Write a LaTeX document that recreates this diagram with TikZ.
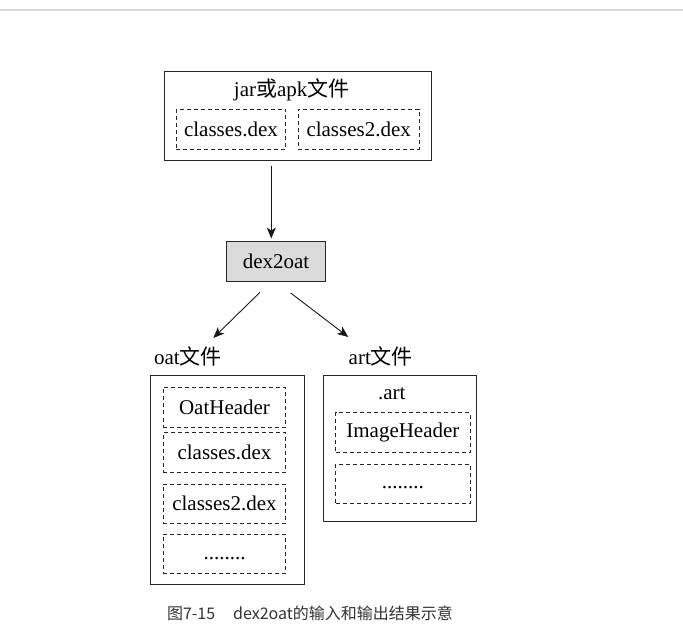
\documentclass[tikz,border=0pt]{standalone}
\usepackage{fontspec}
\setmainfont{Liberation Serif}
\newfontfamily\cjk{Noto Sans CJK SC}
\usetikzlibrary{arrows.meta}
\begin{document}
\begin{tikzpicture}[x=1pt,y=-1pt,
  solidbox/.style={draw=black!85,line width=0.9pt,inner sep=0pt},
  dashbox/.style={draw=black!85,line width=0.9pt,dash pattern=on 4pt off 3pt,inner sep=0pt,font=\fontsize{21}{24}\selectfont},
  dotbox/.style={dashbox,text height=0pt,text depth=0pt},
  lbl/.style={inner sep=0pt,font=\fontsize{21}{24}\selectfont},
  arr/.style={draw=black!90,line width=0.9pt,-{Stealth[length=11pt,width=9pt,inset=3pt]}}]
\useasboundingbox (0,0) rectangle (683,628);
\fill[white] (0,0) rectangle (683,628);
\coordinate (tl) at (0,10);
\coordinate (tr) at (683,10);
\draw[black!15,line width=1.4pt] (tl) -- (tr);
% top box
\node[solidbox,minimum width=267.4pt,minimum height=89.3pt] (top) at (298,115.7) {};
\node[lbl] (toplbl) at (291.7,89.5) {jar{\cjk 或}apk{\cjk 文件}};
\node[dashbox,minimum width=109.4pt,minimum height=40.4pt] (d1) at (231,129.5) {classes.dex};
\node[dashbox,minimum width=120.7pt,minimum height=40.4pt] (d2) at (358.7,129.5) {classes2.dex};
% dex2oat
\node[solidbox,fill=black!14,minimum width=98.6pt,minimum height=40pt,font=\fontsize{21}{24}\selectfont] (dex) at (276,261) {dex2oat};
% arrows
\coordinate (a0s) at (271.3,165.7);
\coordinate (a0e) at (271.3,238.5);
\draw[arr] (a0s) -- (a0e);
\coordinate (a1s) at (260,292.3);
\coordinate (a1e) at (213.3,338);
\draw[arr] (a1s) -- (a1e);
\coordinate (a2s) at (290.7,293);
\coordinate (a2e) at (348.3,337);
\draw[arr] (a2s) -- (a2e);
% labels
\node[lbl] (oatlbl) at (188,356.7) {oat{\cjk 文件}};
\node[lbl] (artlbl) at (380.8,356) {art{\cjk 文件}};
% oat box
\node[solidbox,minimum width=153.6pt,minimum height=209pt] (oat) at (227.5,479.8) {};
\node[dashbox,minimum width=122.4pt,minimum height=40pt] (o1) at (224.5,407.3) {OatHeader};
\node[dashbox,minimum width=122.4pt,minimum height=40pt] (o2) at (224.5,452.5) {classes.dex};
\node[dashbox,minimum width=122.4pt,minimum height=39.3pt] (o3) at (224.5,503.7) {classes2.dex};
\node[dotbox,minimum width=122.4pt,minimum height=39.3pt] (o4) at (224.5,553.7) {\raisebox{-5.5pt}{........}};
% art box
\node[solidbox,minimum width=152.7pt,minimum height=146pt] (art) at (399.7,448.3) {};
\node[lbl] (artname) at (391.7,393.3) {.art};
\node[dashbox,minimum width=134.3pt,minimum height=40pt] (r1) at (402.9,432.3) {ImageHeader};
\node[dotbox,minimum width=134.3pt,minimum height=39.3pt] (r2) at (402.9,483.7) {\raisebox{-4.5pt}{........}};
% caption
\node[inner sep=0pt,text=black!80,font=\cjk\fontsize{16}{19}\selectfont] (cap) at (310,613.3) {图7-15\hspace{18pt}dex2oat的输入和输出结果示意};
\end{tikzpicture}
\end{document}
